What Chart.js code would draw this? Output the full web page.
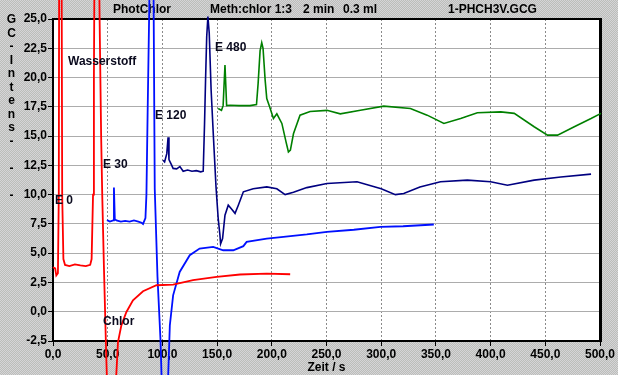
<!DOCTYPE html>
<html>
<head>
<meta charset="utf-8">
<script src="https://cdn.jsdelivr.net/npm/chart.js@4/dist/chart.umd.min.js"></script>
<style>
  html, body { margin: 0; padding: 0; background: #c4c4c4; }
  canvas { display: block; }
</style>
</head>
<body>
<canvas id="gc" width="618" height="375"></canvas>
<script>
'use strict'

// E 0 / Chlor (red)
const redX = [0, 2, 3, 4.5, 5.3, 5.8, 7.6, 8.4, 9.5, 11, 15, 20, 25, 30, 34, 35.3, 36.6, 37.4, 38.5, 41, 42.6, 44, 45, 46.5, 48.3, 50, 54, 57.9,
  59.4, 62.5, 67.1, 73.1, 82.3, 94.6, 109.8, 128, 149.6, 171, 195.4, 216.8];
const redY = [3.8, 3.7, 3.1, 3.3, 10, 40, 40, 10, 4.5, 4.0, 3.9, 4.05, 3.95, 3.9, 4.0, 4.5, 10, 20, 40, 40, 25, 15, 10, 4, -2.5, -8, -8, -5.3,
  -2.6, -1.16, -0.02, 0.98, 1.75, 2.26, 2.32, 2.69, 2.97, 3.18, 3.26, 3.2];

// E 30 (blue)
const blueX = [49.3, 52, 55, 55.7, 56.5, 58, 62, 66, 70, 74, 78, 81, 82.3, 84.5, 85.4, 86.5, 88, 89, 91, 92, 93, 95.5, 98.3, 100, 104,
  105.3, 106.8, 109.8, 115.8, 125, 134, 146.4, 155.6, 164.8, 174, 177, 195.4, 210.6, 232, 250.4, 275, 299.3, 320, 348.1];
const blueY = [7.82, 7.7, 7.8, 10.6, 7.9, 7.8, 7.7, 7.75, 7.7, 7.8, 7.7, 7.6, 7.5, 8.0, 10, 17, 26, 40, 40, 26, 10.5, 3, -2.5, -8, -8,
  -5.4, -1.16, 1.4, 3.4, 4.83, 5.4, 5.53, 5.25, 5.25, 5.6, 5.96, 6.25, 6.4, 6.6, 6.82, 7.0, 7.24, 7.3, 7.45];

// E 120 (navy)
const navyX = [100.6, 102, 104, 105.2, 106, 108, 109.8, 113, 116, 119, 123, 127, 131, 135, 137.3, 138.5, 139.5, 140.5, 141.6, 142.8,
  144.5, 146.5, 149, 151, 152.6, 153.2, 155, 157.2, 160.2, 163, 166.4, 169.4, 174, 183, 195.4, 204.6, 212.2, 219.8, 232, 250.4,
  277.9, 300, 313, 320.6, 335.4, 354.2, 378.7, 400, 415.4, 439.8, 464.2, 491.8];
const navyY = [12.94, 12.8, 13.5, 14.9, 13.0, 12.6, 12.24, 12.2, 12.4, 12.0, 12.1, 12.0, 12.05, 11.95, 12.0, 16, 20, 23.5, 25.2, 23.8,
  19, 15.2, 10.66, 7.96, 6.53, 5.8, 6.25, 8.24, 9.1, 8.8, 8.4, 9.1, 10.24, 10.5, 10.66, 10.5, 10.0, 10.2, 10.6, 10.95,
  11.1, 10.5, 10.0, 10.1, 10.66, 11.1, 11.24, 11.1, 10.8, 11.24, 11.5, 11.75];

// E 480 (green)
const greenX = [151, 154, 155.5, 157.2, 158.7, 162, 170, 180, 186, 187.5, 189.3, 190.8, 192, 193.9, 195.4, 198, 201.5, 204.6, 209.2,
  213, 215.2, 217, 219.8, 225.8, 235, 250.4, 262.6, 281, 302.3, 326.7, 342, 357.3, 372.6, 387.9, 409.3, 421.6, 439.8, 452, 461.2,
  476.5, 491.8, 500.9, 517];
const greenY = [17.36, 17.2, 17.6, 21.06, 17.6, 17.64, 17.6, 17.6, 17.7, 19.5, 22.3, 22.97, 22.5, 19.8, 18.2, 17.5, 16.5, 16.9, 16.08,
  14.5, 13.65, 13.8, 15.2, 16.79, 17.1, 17.2, 16.9, 17.2, 17.56, 17.35, 16.79, 16.08, 16.5, 16.99, 17.07, 16.94, 15.8, 15.08, 15.08,
  15.8, 16.5, 16.94, 17.0];

const xMin = 0, xMax = 500, xStep = 50;
const yMin = -2.5, yMax = 25, yStep = 2.5;

const headerTexts = [['PhotChlor', 113], ['Meth:chlor 1:3', 210], ['2 min', 303], ['0.3 ml', 343], ['1-PHCH3V.GCG', 448]];
const yTitleChars = ['G', 'C', '-', 'I', 'n', 't', 'e', 'n', 's', '-', '', '-', '', '-'];
const peakLabels = [['Wasserstoff', 68, 62], ['E 480', 215, 48], ['E 120', 155, 116], ['E 30', 103, 165], ['E 0', 55, 201], ['Chlor', 103, 322]];

const FONT = '"Liberation Sans", Arial, sans-serif';

function pts(xs, ys) {
  return xs.map((x, i) => ({x: x, y: ys[i]}));
}

// grey dithered backdrop
const pat = document.createElement('canvas');
pat.width = 2; pat.height = 2;
let pctx = pat.getContext('2d');
pctx.fillStyle = '#d6d4d8'; pctx.fillRect(0, 0, 2, 2);
pctx.fillStyle = '#bbbeb9'; pctx.fillRect(1, 0, 1, 1); pctx.fillRect(0, 1, 1, 1);

const frame = {
  id: 'frame',
  beforeDraw(chart) {
    let ctx = chart.ctx, a = chart.chartArea;
    ctx.save();
    ctx.fillStyle = ctx.createPattern(pat, 'repeat');
    ctx.fillRect(0, 0, chart.width, chart.height);
    ctx.fillStyle = '#fff';
    ctx.fillRect(a.left, a.top, a.right - a.left, a.bottom - a.top);
    ctx.fillStyle = '#000';
    ctx.font = 'bold 12px ' + FONT;
    ctx.textBaseline = 'middle';
    ctx.textAlign = 'left';
    for (let h of headerTexts) ctx.fillText(h[0], h[1], 10);
    ctx.textAlign = 'center';
    yTitleChars.forEach((c, i) => { if (c) ctx.fillText(c, 11.5, 20 + i * 13.5); });
    ctx.restore();
  },
  beforeDatasetsDraw(chart) {
    let ctx = chart.ctx, a = chart.chartArea;
    ctx.save();
    ctx.strokeStyle = '#000';
    ctx.lineWidth = 2;
    ctx.beginPath();
    ctx.moveTo(a.left, a.top); ctx.lineTo(a.right, a.top);
    ctx.stroke();
    ctx.lineWidth = 3;
    ctx.beginPath();
    ctx.moveTo(a.right + 0.5, a.top - 1); ctx.lineTo(a.right + 0.5, a.bottom + 1);
    ctx.stroke();
    ctx.restore();
  },
  afterDatasetsDraw(chart) {
    let ctx = chart.ctx;
    ctx.save();
    ctx.fillStyle = '#0a0a1e';
    ctx.font = 'bold 12px ' + FONT;
    ctx.textBaseline = 'middle';
    ctx.textAlign = 'left';
    for (let l of peakLabels) ctx.fillText(l[0], l[1], l[2]);
    ctx.restore();
  }
};

function line(data, color, width) {
  return {
    data: data,
    borderColor: color,
    borderWidth: width,
    pointRadius: 0,
    tension: 0,
    fill: false,
    clip: false
  };
}

const comma = v => Number(v).toFixed(1).replace('.', ',');

new Chart(document.getElementById('gc'), {
  type: 'line',
  data: {
    datasets: [
      line(pts(redX, redY), '#ff0000', 1.8),
      line(pts(blueX, blueY), '#0010ff', 1.8),
      line(pts(navyX, navyY), '#000080', 1.6),
      line(pts(greenX, greenY), '#008000', 1.6)
    ]
  },
  options: {
    responsive: false,
    animation: false,
    layout: { padding: { top: 19, right: 18, left: 0, bottom: 0 } },
    plugins: {
      legend: { display: false },
      tooltip: { enabled: false }
    },
    scales: {
      x: {
        type: 'linear',
        min: xMin, max: xMax,
        afterFit: s => { s.height = 34; },
        ticks: {
          stepSize: xStep,
          color: '#000',
          padding: 1,
          maxRotation: 0,
          font: { family: FONT, size: 12, weight: 'bold' },
          callback: comma
        },
        grid: { color: '#8a8a8a', lineWidth: 1, tickColor: '#000', tickLength: 5 },
        border: { color: '#000', width: 2, dash: [2, 2] },
        title: {
          display: true,
          text: 'Zeit / s',
          color: '#000',
          padding: { top: 0, bottom: 0 },
          font: { family: FONT, size: 12, weight: 'bold' }
        }
      },
      y: {
        type: 'linear',
        min: yMin, max: yMax,
        afterFit: s => { s.width = 53; },
        ticks: {
          stepSize: yStep,
          color: '#000',
          padding: 1,
          font: { family: FONT, size: 12, weight: 'bold' },
          callback: comma
        },
        grid: { color: '#acacac', lineWidth: 1, tickColor: '#000', tickLength: 5 },
        border: { color: '#000', width: 2 }
      }
    }
  },
  plugins: [frame]
});
</script>
</body>
</html>
